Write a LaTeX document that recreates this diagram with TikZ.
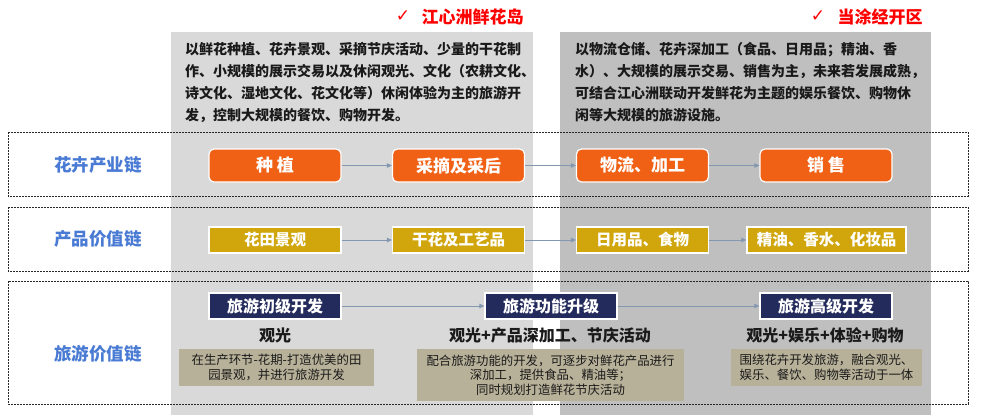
\documentclass[tikz,border=0pt]{standalone}
\usepackage{fontspec}
\newfontfamily\cjk{Noto Sans CJK SC}
\newfontfamily\sym{DejaVu Sans}
\usetikzlibrary{arrows.meta}
\definecolor{lgray}{HTML}{D9D9D9}
\definecolor{dgray}{HTML}{BFBFBF}
\definecolor{orangeF}{HTML}{F06015}
\definecolor{goldF}{HTML}{D0A60C}
\definecolor{navyF}{HTML}{232B5C}
\definecolor{tanF}{HTML}{B8B199}
\definecolor{blueL}{HTML}{4A7BD4}
\definecolor{arrowC}{HTML}{8497B0}
\definecolor{redH}{HTML}{FF0000}
\definecolor{txt}{HTML}{1A1A1A}
\tikzset{
  orangebox/.style={draw=white, line width=1.2pt, fill=orangeF, rounded corners=5pt, minimum width=132pt, minimum height=33pt, inner sep=0pt, text=white, font=\cjk\bfseries\fontsize{17}{17}\selectfont},
  goldbox/.style={draw=white, line width=1.2pt, fill=goldF, minimum width=132pt, minimum height=26pt, inner sep=0pt, text=white, font=\cjk\bfseries\fontsize{15.5}{15.5}\selectfont},
  navybox/.style={draw=white, line width=1.2pt, fill=navyF, minimum width=132pt, minimum height=26pt, inner sep=0pt, text=white, font=\cjk\bfseries\fontsize{16}{16}\selectfont},
  tanbox/.style={fill=tanF, inner sep=0pt, text=txt, align=center, font=\cjk\fontsize{12.4}{14.5}\selectfont},
  rowlabel/.style={text=blueL, font=\cjk\bfseries\fontsize{17.5}{17.5}\selectfont},
  para/.style={text=txt, inner sep=0pt, anchor=base west, font=\cjk\bfseries\fontsize{14}{14}\selectfont},
  stage/.style={text=txt, font=\cjk\bfseries\fontsize{16}{16}\selectfont},
  dashbox/.style={draw=black!85, dash pattern=on 2pt off 1pt, line width=0.9pt},
  arr/.style={draw=arrowC, line width=0.9pt, -{Triangle[length=5pt,width=4.5pt]}},
  head/.style={text=redH, font=\cjk\bfseries\fontsize{17}{17}\selectfont},
  chk/.style={text=redH, font=\sym\fontsize{17}{17}\selectfont}
}
\begin{document}
\begin{tikzpicture}[x=1pt,y=-1pt]
\useasboundingbox (0,0) rectangle (982,415);
\fill[white] (0,0) rectangle (982,415);
% panels
\fill[lgray] (171,32) rectangle (533,415);
\fill[dgray] (560,32) rectangle (931,415);
% headers
\node[chk] (c1) at (403,16) {✓};
\node[head] (h1) at (472.5,17) {江心洲鲜花岛};
\node[chk] (c2) at (818,16) {✓};
\node[head] (h2) at (880,17) {当涂经开区};
% paragraphs
\node[para] (la) at (185,54.5) {以鲜花种植、花卉景观、采摘节庆活动、少量的干花制};
\node[para] (lb) at (185,76.5) {作、小规模的展示交易以及休闲观光、文化（农耕文化、};
\node[para] (lc) at (185,98.5) {诗文化、湿地文化、花文化等）休闲体验为主的旅游开};
\node[para] (ld) at (185,120.5) {发，控制大规模的餐饮、购物开发。};
\node[para] (ra) at (575,54.5) {以物流仓储、花卉深加工（食品、日用品；精油、香};
\node[para] (rb) at (575,76.5) {水）、大规模的展示交易、销售为主，未来若发展成熟，};
\node[para] (rc) at (575,98.5) {可结合江心洲联动开发鲜花为主题的娱乐餐饮、购物休};
\node[para] (rd) at (575,120.5) {闲等大规模的旅游设施。};
% dashed rows
\draw[dashbox] (8,132) rectangle (968,196);
\draw[dashbox] (8,207) rectangle (968,271);
\draw[dashbox] (8,281) rectangle (968,404);
% row labels
\node[rowlabel] (r1) at (98,165) {花卉产业链};
\node[rowlabel] (r2) at (98,239) {产品价值链};
\node[rowlabel] (r3) at (98,354) {旅游价值链};
% row 1
\node[orangebox] (o1) at (275,165.5) {种 植};
\node[orangebox] (o2) at (458.5,165.5) {采摘及采后};
\node[orangebox] (o3) at (642.5,165.5) {物流、加工};
\node[orangebox] (o4) at (826,165.5) {销 售};
\draw[arr] (o1) -- (o2);
\draw[arr] (o2) -- (o3);
\draw[arr] (o3) -- (o4);
% row 2
\node[goldbox] (g1) at (275,240) {花田景观};
\node[goldbox] (g2) at (458.5,240) {干花及工艺品};
\node[goldbox] (g3) at (642.5,240) {日用品、食物};
\node[goldbox, minimum width=159pt] (g4) at (826.5,240) {精油、香水、化妆品};
\draw[arr] (g1) -- (g2);
\draw[arr] (g2) -- (g3);
\draw[arr] (g3) -- (g4);
% row 3
\node[navybox] (n1) at (275,306) {旅游初级开发};
\node[navybox] (n2) at (551,306) {旅游功能升级};
\node[navybox] (n3) at (826,306) {旅游高级开发};
\draw[arr] (n1) -- (n2);
\draw[arr] (n2) -- (n3);
\node[stage] (s1) at (275,335) {观光};
\node[stage] (s2) at (550,335) {观光+产品深加工、节庆活动};
\node[stage] (s3) at (825,335) {观光+娱乐+体验+购物};
\node[tanbox, minimum width=195pt, minimum height=37pt] (t1) at (276.5,367.5) {在生产环节-花期-打造优美的田\\园景观，并进行旅游开发};
\node[tanbox, minimum width=267pt, minimum height=52pt] (t2) at (550.5,375) {配合旅游功能的开发，可逐步对鲜花产品进行\\深加工，提供食品、精油等；\\同时规划打造鲜花节庆活动};
\node[tanbox, minimum width=191pt, minimum height=37pt] (t3) at (826.5,367.5) {围绕花卉开发旅游，融合观光、\\娱乐、餐饮、购物等活动于一体};
\end{tikzpicture}
\end{document}
